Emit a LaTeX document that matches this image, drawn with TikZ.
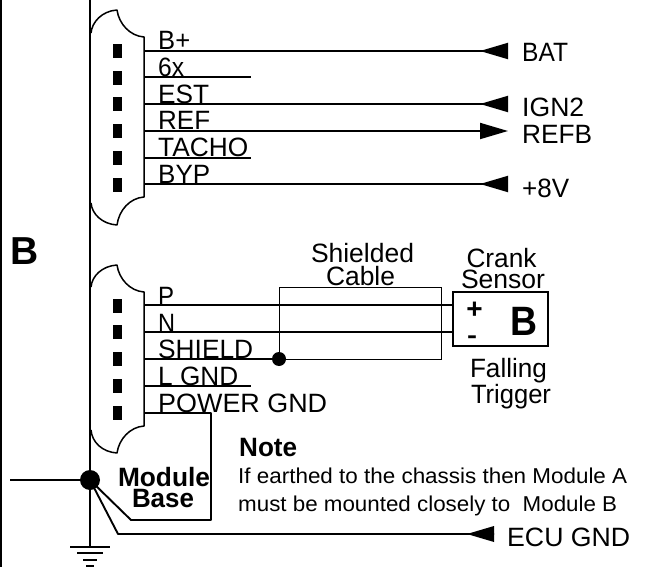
\documentclass[tikz,border=0pt]{standalone}
\usepackage{fontspec}
\usepackage{graphicx}
\setmainfont{Liberation Sans}
\usetikzlibrary{arrows.meta}
\newcommand\fw[2]{\resizebox{#1pt}{\height}{#2}}
\tikzset{
  wire/.style={line width=1.9pt},
  thinw/.style={line width=0.9pt},
  inw/.style={wire,-{Triangle[reversed,length=28pt,width=16pt]}},
  outw/.style={wire,-{Triangle[length=28pt,width=16pt]}},
  pinb/.style={fill=black,draw=none,inner sep=0pt,minimum width=9pt,minimum height=14pt},
  dotn/.style={circle,fill=black,inner sep=0pt,minimum size=#1},
  lab/.style={anchor=base west,inner sep=0pt,font=\fontsize{26.5}{26.5}\selectfont},
  labc/.style={anchor=base,inner sep=0pt,font=\fontsize{26.5}{26.5}\selectfont},
  blab/.style={anchor=base,inner sep=0pt,font=\fontsize{26.5}{26.5}\selectfont\bfseries},
  notet/.style={anchor=base west,inner sep=0pt,font=\fontsize{21.5}{21.5}\selectfont},
  conn/.style={line width=1.5pt,line join=round}
}
\begin{document}
\begin{tikzpicture}[x=1pt,y=-1pt]
\useasboundingbox (0,0) rectangle (661,567);
% frame and bus
\coordinate (ftop) at (1,0); \coordinate (fbot) at (1,567);
\draw[line width=1.3pt] (ftop) -- (fbot);
\coordinate (bustop) at (90,0);
\coordinate (gnd) at (90,547);
% connector outlines
\draw[conn] (91,33) .. controls (92,22) and (102,11) .. (117,10)
  .. controls (119,24) and (130,36) .. (144,37) -- (144,197)
  .. controls (130,198) and (119,210) .. (117,225)
  .. controls (102,224) and (92,214) .. (91,203);
\draw[conn] (91,287) .. controls (92,276) and (102,266) .. (117,265)
  .. controls (119,279) and (130,291) .. (144,292) -- (144,426)
  .. controls (130,427) and (119,439) .. (117,453)
  .. controls (102,452) and (92,442) .. (91,430);
% pins
\foreach \y/\n in {51/a,78/b,104/c,131/d,158/e,185/f,306/g,332/h,359/i,386/j,413/k}
  \node[pinb,name=pin\n] at (117.5,\y) {};
% wire ends
\coordinate (sa) at (144,51); \coordinate (ea) at (508,51);
\coordinate (sb) at (144,77); \coordinate (eb) at (251,77);
\coordinate (sc) at (144,104); \coordinate (ec) at (508,104);
\coordinate (sd) at (144,131); \coordinate (ed) at (508,131);
\coordinate (se) at (144,158); \coordinate (ee) at (251,158);
\coordinate (sf) at (144,184); \coordinate (ef) at (508,184);
\draw[inw] (sa) -- (ea);
\draw[wire] (sb) -- (eb);
\draw[inw] (sc) -- (ec);
\draw[outw] (sd) -- (ed);
\draw[wire] (se) -- (ee);
\draw[inw] (sf) -- (ef);
% lower connector
\node[draw,line width=1.5pt,inner sep=0pt,minimum width=95pt,minimum height=54pt] (sensor) at (500.5,319) {};
\coordinate (sg) at (144,305); \coordinate (sh) at (144,332);
\coordinate (si) at (144,359); \coordinate (sj) at (144,386); \coordinate (ej) at (251,386);
\coordinate (sk) at (144,413);
\node[dotn=14pt] (sdot) at (279,359) {};
\draw[wire] (sg) -- (sensor.west |- sg);
\draw[wire] (sh) -- (sensor.west |- sh);
\draw[wire] (si) -- (sdot);
\draw[wire] (sj) -- (ej);
% shield box
\coordinate (sbtr) at (441,287); \coordinate (sbbr) at (441,359);
\draw[thinw] (sdot.center) -- (sdot.center |- sbtr) -- (sbtr) -- (sbbr) -- (sdot.center);
% junction
\node[dotn=20pt] (junc) at (90,480) {};
\coordinate (earthl) at (10,480);
\draw[wire] (earthl) -- (junc);
\draw[wire] (bustop) -- (gnd);
\coordinate (p1) at (211,413); \coordinate (p2) at (211,520); \coordinate (p3) at (131,520);
\draw[wire,line join=round] (sk) -- (p1) -- (p2) -- (p3) -- (junc.center);
\coordinate (q1) at (118,534); \coordinate (q2) at (494,534);
\draw[wire,line join=round] (junc.center) -- (q1) -- (q2);
\fill (467,534) coordinate (tipq) -- (494,526) -- (494,542) -- cycle;
% ground
\coordinate (g2) at (90,553); \coordinate (g3) at (90,560); \coordinate (g4) at (90,566);
\draw[wire] ([xshift=-20pt]gnd) -- ([xshift=20pt]gnd);
\draw[wire] ([xshift=-13pt]g2) -- ([xshift=13pt]g2);
\draw[wire] ([xshift=-7pt]g3) -- ([xshift=7pt]g3);
\draw[wire] ([xshift=-4pt]g4) -- ([xshift=4pt]g4);
% labels
\node[lab] (t1) at (158,50) {\fw{32}{B+}};
\node[lab] (t2) at (158,77) {\fw{26}{6x}};
\node[lab] (t3) at (158,103) {\fw{51}{EST}};
\node[lab] (t4) at (158,130) {\fw{52}{REF}};
\node[lab] (t5) at (158,157) {\fw{90}{TACHO}};
\node[lab] (t6) at (158,183) {\fw{52}{BYP}};
\node[lab] (t7) at (158,305) {\fw{16}{P}};
\node[lab] (t8) at (158,332) {\fw{17}{N}};
\node[lab] (t9) at (158,358) {\fw{95}{SHIELD}};
\node[lab] (t10) at (158,385) {\fw{80}{L GND}};
\node[lab] (t11) at (158,412) {\fw{169}{POWER GND}};
\node[lab] (r1) at (522,62) {\fw{46}{BAT}};
\node[lab] (r2) at (522,117) {\fw{62}{IGN2}};
\node[lab] (r3) at (522,143) {\fw{70}{REFB}};
\node[lab] (r4) at (522,197) {\fw{47}{+8V}};
\node[lab] (r5) at (507,546) {\fw{123}{ECU GND}};
\node[labc] (c1) at (362.5,262) {\fw{103}{Shielded}};
\node[labc] (c2) at (360.5,285) {\fw{69}{Cable}};
\node[labc] (s1) at (501.5,267) {\fw{70}{Crank}};
\node[labc] (s2) at (503,288) {\fw{84}{Sensor}};
\node[labc] (f1) at (508.5,377) {\fw{77}{Falling}};
\node[labc] (f2) at (511,403) {\fw{80}{Trigger}};
\node[anchor=base,inner sep=0pt,font=\fontsize{39}{39}\selectfont\bfseries] (bl) at (25,264) {B};
\node[anchor=base,inner sep=0pt,font=\fontsize{41}{41}\selectfont\bfseries] (bs) at (523.5,335) {\fw{27}{B}};
\node[anchor=base,inner sep=0pt,font=\fontsize{28}{28}\selectfont\bfseries] (plus) at (474.5,318) {+};
\node[anchor=base,inner sep=0pt,font=\fontsize{24}{24}\selectfont\bfseries] (minus) at (472,343) {\fw{10}{-}};
\node[blab] (m1) at (164,486) {\fw{92}{Module}};
\node[blab] (m2) at (163,507) {\fw{62}{Base}};
\node[anchor=base west,inner sep=0pt,font=\fontsize{26.5}{26.5}\selectfont\bfseries] (nt) at (239,456) {\fw{58}{Note}};
\node[notet] (n1) at (238,483) {\fw{389}{If earthed to the chassis then Module A}};
\node[notet] (n2) at (238,511) {\fw{379}{must be mounted closely to\ \ Module B}};
\end{tikzpicture}
\end{document}
